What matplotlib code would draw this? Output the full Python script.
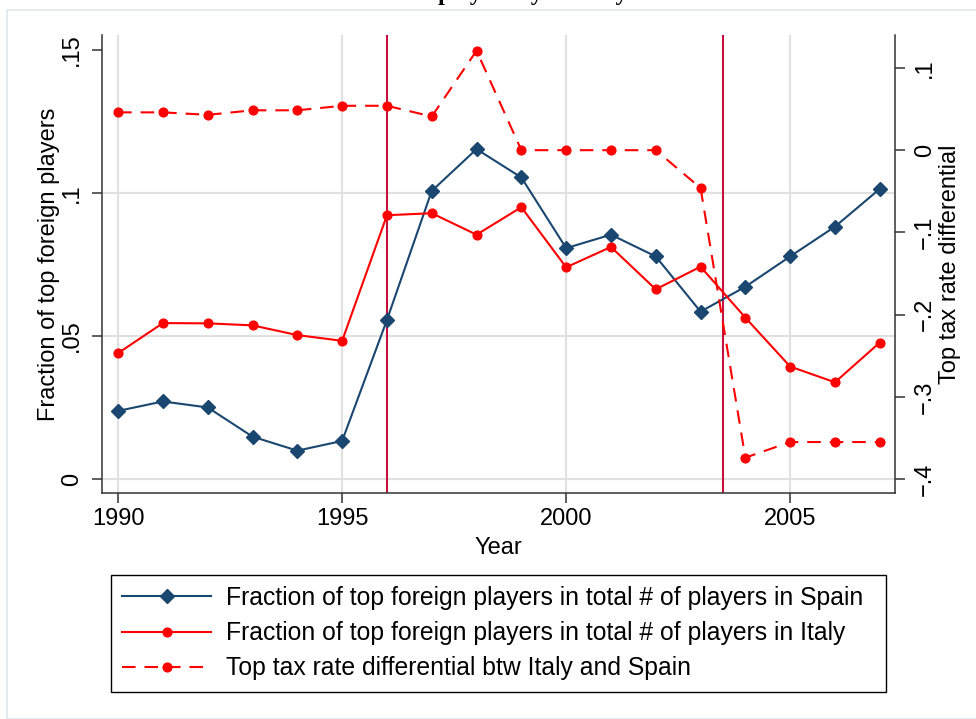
import matplotlib
matplotlib.use("Agg")
import matplotlib.pyplot as plt
from matplotlib.lines import Line2D
from matplotlib.patches import Rectangle

# ----- data -----
years = list(range(1990, 2008))
spain_share = [0.0238, 0.0271, 0.0250, 0.0148, 0.0099, 0.0133, 0.0556, 0.1007, 0.1153,
               0.1054, 0.0807, 0.0854, 0.0778, 0.0585, 0.0672, 0.0778, 0.0882, 0.1014]
italy_share = [0.0440, 0.0545, 0.0544, 0.0537, 0.0503, 0.0483, 0.0922, 0.0929, 0.0854,
               0.0950, 0.0740, 0.0811, 0.0663, 0.0742, 0.0564, 0.0393, 0.0338, 0.0477]
tax_diff = [0.046, 0.046, 0.043, 0.0485, 0.0485, 0.054, 0.054, 0.041, 0.121,
            0.0, 0.0, 0.0, 0.0, -0.046, -0.374, -0.355, -0.355, -0.355]
reform_years = [1996, 2003.5]

left_ticks = [0, 0.05, 0.1, 0.15]
left_ticklabels = ["0", ".05", ".1", ".15"]
right_ticks = [-0.4, -0.3, -0.2, -0.1, 0, 0.1]
right_ticklabels = ["\u2212.4", "\u2212.3", "\u2212.2", "\u2212.1", "0", ".1"]
x_ticks = [1990, 1995, 2000, 2005]

labels = ["Fraction of top foreign players in total # of players in Spain",
          "Fraction of top foreign players in total # of players in Italy",
          "Top tax rate differential btw Italy and Spain"]

NAVY = "#1a476f"
RED = "#ff0000"
VLINE = "#c8103c"
GRID = "#e1e1e1"
SPINE = "#333333"
FS = 17

plt.rcParams["font.family"] = ["Liberation Sans", "DejaVu Sans"]

fig = plt.figure(figsize=(9.76, 7.19), dpi=100)
W, H = 976, 719

# faint outer frame of the graph region
fig.patches.append(Rectangle((7 / W, 0), 1, 1 - 10 / H, transform=fig.transFigure,
                             fill=False, edgecolor="#dfe8eb", linewidth=1.2))

# title is cut off at the top edge, only descenders peek in
fig.text(0.5, 1.0, "Share of players by country", ha="center", va="baseline",
         family="Liberation Serif", fontweight="bold", fontsize=17)

ax = fig.add_axes([102 / W, 1 - 493 / H, (895 - 102) / W, (493 - 35) / H])
ax2 = ax.twinx()

ax.set_xlim(1989.64, 2007.34)
ax.set_ylim(-0.0049, 0.1552)
ax2.set_ylim(-0.417, 0.1401)

for y in [0, 0.05, 0.1]:
    ax.axhline(y, color=GRID, lw=1.5, zorder=0)
for x in x_ticks:
    ax.axvline(x, color=GRID, lw=1.5, zorder=0)
for x in reform_years:
    ax.axvline(x, color=VLINE, lw=1.5, zorder=1)

ax.plot(years, spain_share, color=NAVY, lw=1.5, marker="D", ms=7.5, zorder=3)
ax.plot(years, italy_share, color=RED, lw=1.5, marker="o", ms=6.3, zorder=3)
ax2.plot(years, tax_diff, color=RED, lw=1.5, marker="o", ms=6.3,
         dashes=(6.5, 4.3), zorder=3)

ax.set_xticks(x_ticks)
ax.set_yticks(left_ticks)
ax.set_yticklabels(left_ticklabels, rotation=90, va="center")
ax2.set_yticks(right_ticks)
ax2.set_yticklabels(right_ticklabels, rotation=90, va="center")

for a in (ax, ax2):
    a.tick_params(length=7.5, width=1.1, color=SPINE, labelsize=FS, pad=6)
    for s in a.spines.values():
        s.set_color(SPINE)
        s.set_linewidth(1.1)
ax.tick_params(axis="x", pad=3)
ax.spines["top"].set_visible(False)
ax.spines["right"].set_visible(False)
ax2.spines["top"].set_visible(False)
ax2.spines["left"].set_visible(False)
ax2.spines["bottom"].set_visible(False)
ax2.patch.set_visible(False)

ax.set_xlabel("Year", fontsize=FS, labelpad=5)
ax.set_ylabel("Fraction of top foreign players", fontsize=FS, labelpad=1)
ax2.set_ylabel("Top tax rate differential", fontsize=FS, labelpad=2)

handles = [
    Line2D([], [], color=NAVY, lw=1.5, marker="D", ms=7.5),
    Line2D([], [], color=RED, lw=1.5, marker="o", ms=6.3),
    Line2D([], [], color=RED, lw=1.5, marker="o", ms=6.3, dashes=(6.5, 4.3)),
]
leg = fig.legend(handles, labels, loc="upper left",
                 bbox_to_anchor=(111 / W, 1 - 575 / H - 0.01, (886 - 111) / W, 0.01),
                 mode="expand", fontsize=17.8, handlelength=3.6, handletextpad=0.62,
                 labelspacing=0.45, borderpad=0.45, fancybox=False, framealpha=1,
                 edgecolor="black", borderaxespad=0)
leg.get_frame().set_linewidth(1.0)

fig.savefig("out.png", dpi=100, facecolor="white")
